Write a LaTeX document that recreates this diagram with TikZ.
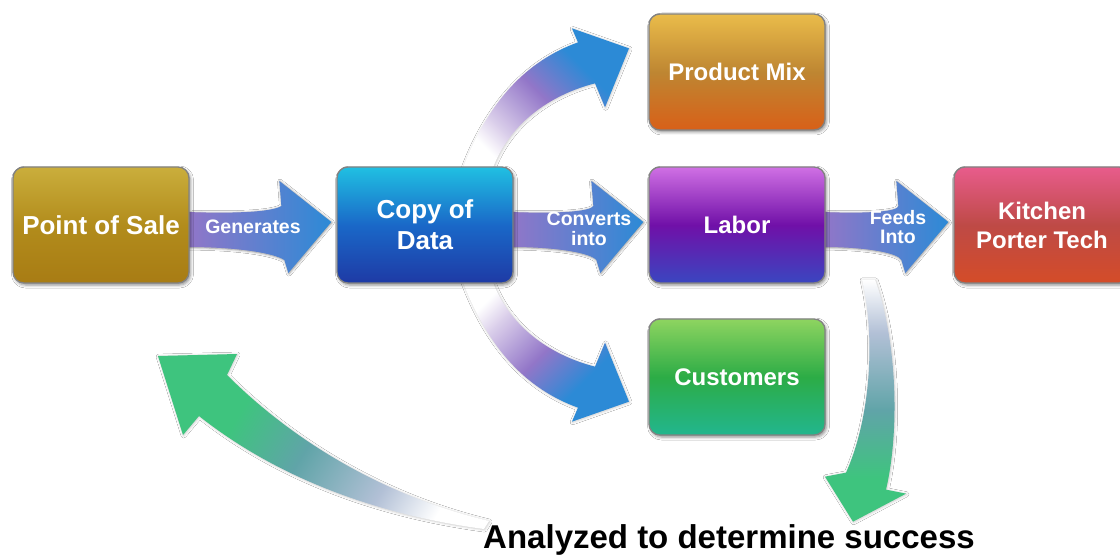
\documentclass[tikz,border=0pt]{standalone}
\usepackage{fontspec}
\setmainfont{Liberation Sans}
\usetikzlibrary{calc,shadows.blur}

% box fills
\definecolor{posTop}{RGB}{202,174,60}
\definecolor{posMid}{RGB}{178,140,28}
\definecolor{posBot}{RGB}{168,124,20}
\definecolor{copyTop}{RGB}{32,192,226}
\definecolor{copyMid}{RGB}{26,104,200}
\definecolor{copyBot}{RGB}{30,58,165}
\definecolor{labTop}{RGB}{208,112,228}
\definecolor{labMid}{RGB}{112,16,168}
\definecolor{labBot}{RGB}{58,70,192}
\definecolor{kitTop}{RGB}{232,92,140}
\definecolor{kitMid}{RGB}{190,74,70}
\definecolor{kitBot}{RGB}{212,76,40}
\definecolor{mixTop}{RGB}{234,188,74}
\definecolor{mixMid}{RGB}{190,134,50}
\definecolor{mixBot}{RGB}{216,96,24}
\definecolor{cusTop}{RGB}{142,212,96}
\definecolor{cusMid}{RGB}{44,172,70}
\definecolor{cusBot}{RGB}{34,182,142}
\definecolor{boxEdge}{RGB}{130,130,130}
% arrow fills
\definecolor{paleLav}{RGB}{218,206,234}
\definecolor{arrLav}{RGB}{146,118,200}
\definecolor{arrBlue}{RGB}{44,138,214}
\definecolor{greyBlue}{RGB}{178,192,214}
\definecolor{tealMid}{RGB}{96,164,168}
\definecolor{arrGreen}{RGB}{62,196,126}

\pgfdeclareverticalshading{bluefade}{100bp}{%
  color(0bp)=(white); color(25bp)=(white); color(33bp)=(paleLav);
  color(50bp)=(arrLav); color(66bp)=(arrBlue); color(100bp)=(arrBlue)}
\pgfdeclareverticalshading{greenfade}{100bp}{%
  color(0bp)=(white); color(25bp)=(white); color(36bp)=(greyBlue);
  color(52bp)=(tealMid); color(66bp)=(arrGreen); color(100bp)=(arrGreen)}

\pgfdeclarelayer{bg}
\pgfsetlayers{bg,main}

% straight fat arrow from the east side of #1 to the west side of #2
\newcommand\fatarrow[2]{%
  \shade[flatarrow]
    let \p1=($(#1.east)+(-3,0)$), \p2=($(#2.west)+(-5,0)$), \n1={\x2-\x1} in
    (\x1,{\y1+13pt})
      .. controls ({\x1+0.4*\n1},{\y1+11pt}) and ({\x1+0.6*\n1},{\y1+14pt}) .. ({\x2-50pt},{\y1+19pt})
      -- ({\x2-52pt},{\y1+44pt}) -- (\x2,{\y1+3pt}) -- ({\x2-43pt},{\y1-48pt}) -- ({\x2-47pt},{\y1-35pt})
      .. controls ({\x1+0.6*\n1},{\y1-28pt}) and ({\x1+0.35*\n1},{\y1-22pt}) .. (\x1,{\y1-22pt}) -- cycle;}

\begin{document}
\begin{tikzpicture}[x=1pt,y=-1pt,
  box/.style={rounded corners=11pt, minimum width=176pt, minimum height=116pt,
    inner sep=0pt, draw=boxEdge, line width=1.3pt, text=white, align=center,
    font=\bfseries\fontsize{24}{29}\selectfont,
    blur shadow={shadow xshift=1.5pt, shadow yshift=-2pt, shadow blur radius=3pt, shadow opacity=45}},
  lbl/.style={text=white, align=center, inner sep=0pt,
    font=\bfseries\fontsize{19.5}{19.5}\selectfont},
  arrowshadow/.style={blur shadow={shadow xshift=0.6pt, shadow yshift=-0.6pt,
    shadow blur radius=2.5pt, shadow opacity=#1}},
  flatarrow/.style={left color=arrLav, right color=arrBlue, arrowshadow=45},
  curvearrow/.style={arrowshadow=22}]
\useasboundingbox (0,0) rectangle (1120,556);

% boxes
\node[box, top color=posTop, bottom color=posBot, middle color=posMid,
  font=\bfseries\fontsize{26}{31}\selectfont] (pos) at (101,225) {Point of Sale};
\node[box, top color=copyTop, bottom color=copyBot, middle color=copyMid,
  font=\bfseries\fontsize{26}{31}\selectfont] (copy) at (425,225) {Copy of\\Data};
\node[box, top color=labTop, bottom color=labBot, middle color=labMid] (labor) at (737,225) {Labor};
\node[box, top color=kitTop, bottom color=kitBot, middle color=kitMid] (kitchen) at (1042,225) {Kitchen\\Porter Tech};
\node[box, top color=mixTop, bottom color=mixBot, middle color=mixMid] (mix) at (737,72) {Product Mix};
\node[box, top color=cusTop, bottom color=cusBot, middle color=cusMid] (cust) at (737,377) {Customers};

% closing caption
\node[anchor=base, inner sep=0pt, font=\bfseries\fontsize{33}{38}\selectfont] (result) at (729,548)
  {Analyzed to determine success};
\coordinate (loopend) at (486,525);

\begin{pgfonlayer}{bg}
  \fill[white] (0,0) rectangle (1120,556);

  % straight arrows along the main row
  \fatarrow{pos}{copy}
  \fatarrow{copy}{labor}
  \fatarrow{labor}{kitchen}

  % branch up to Product Mix
  \begin{scope}[shift={(copy.north)}]
    \shade[curvearrow, shading=bluefade, shading angle=-45]
      (37,4) .. controls (63,-66) and (103,-106) .. (153,-124)
      -- (147,-138) -- (204,-118) -- (180,-59) -- (170,-83)
      .. controls (123,-71) and (83,-41) .. (67,4) -- cycle;
  \end{scope}
  % branch down to Customers
  \begin{scope}[shift={(copy.south)}, yscale=-1]
    \shade[curvearrow, shading=bluefade, shading angle=-135]
      (37,4) .. controls (63,-66) and (103,-106) .. (153,-124)
      -- (147,-138) -- (204,-118) -- (180,-59) -- (170,-83)
      .. controls (123,-71) and (83,-41) .. (67,4) -- cycle;
  \end{scope}
  % Labor down to the caption
  \begin{scope}[shift={(labor.south)}]
    \shade[curvearrow, shading=greenfade, shading angle=180]
      (125,-4) -- (138,-4) .. controls (160,56) and (163,146) .. (149,206)
      -- (169,210) -- (116,238) -- (88,193) -- (109,189)
      .. controls (133,136) and (139,56) .. (125,-4) -- cycle;
  \end{scope}
  % caption back to Point of Sale
  \begin{scope}[shift={(loopend)}]
    \shade[curvearrow, shading=greenfade, shading angle=58]
      (3,-4) .. controls (-106,-30) and (-196,-87) .. (-259,-150)
      -- (-249,-171) -- (-328,-169) -- (-303,-90) -- (-287,-109)
      .. controls (-206,-45) and (-106,-10) .. (-2,4) -- cycle;
  \end{scope}
\end{pgfonlayer}

% arrow labels
\node[lbl] (gen) at (253,227) {Generates};
\node[lbl] (conv) at (589,229) {Converts\\into};
\node[lbl] (feeds) at (898,227) {Feeds\\Into};
\end{tikzpicture}
\end{document}
